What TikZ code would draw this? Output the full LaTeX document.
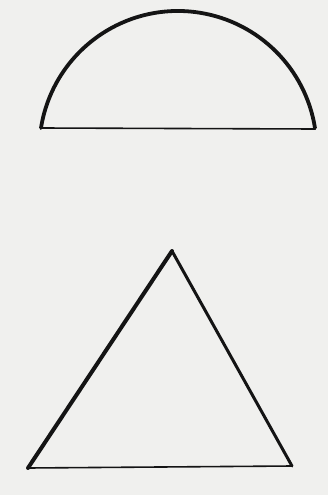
\documentclass[tikz,border=0pt]{standalone}
\definecolor{papercol}{RGB}{240, 240, 238}
\definecolor{inkcol}{RGB}{20, 20, 20}

\begin{document}
\begin{tikzpicture}[x=1pt,y=-1pt,line join=round,line cap=round]
					\fill[papercol] (0,0) rectangle (328,495);
					\useasboundingbox (0,0) rectangle (328,495);
					\coordinate (a0) at (41,128);
					\coordinate (a1) at (315,129);
					\coordinate (t0) at (172,251);
					\coordinate (t1) at (28,468);
					\coordinate (t2) at (292,466);
					\draw[inkcol,line width=3.8pt] (a0) arc[start angle=189,end angle=351,radius=138.7];
					\draw[inkcol,line width=1.6pt] (a0) -- (a1);
					\draw[inkcol,line width=4pt] (t1) -- (t0);
					\draw[inkcol,line width=3pt] (t0) -- (t2);
					\draw[inkcol,line width=1.6pt] (t1) -- (t2);
				\end{tikzpicture}
\end{document}
